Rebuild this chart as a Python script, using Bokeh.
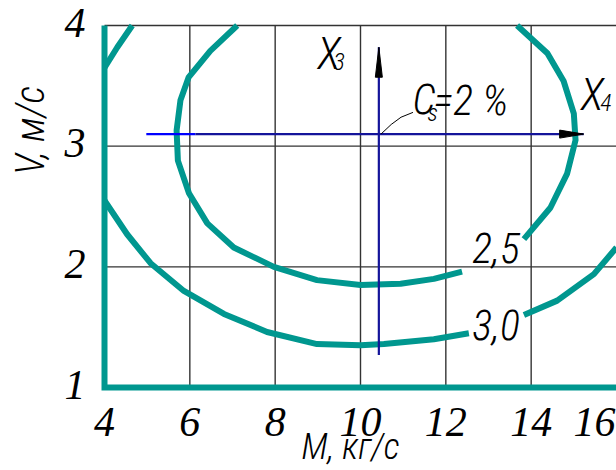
from bokeh.plotting import figure
from bokeh.models import Label, Range1d
from bokeh.embed import file_html
from bokeh.resources import INLINE

# Axis ticks
x_ticks = [4, 6, 8, 10, 12, 14, 16]
y_ticks = [1, 2, 3, 4]
x_grid = [6, 8, 10, 12, 14]
y_grid = [2, 3, 4]

# Contour C = 2.5 (left/bottom branch and right branch)
c25_a_x = [7.11, 6.48, 5.97, 5.78, 5.69, 5.72, 5.98, 6.41, 7.03, 7.97, 8.98, 10.0, 10.94, 11.72, 12.38]
c25_a_y = [4.00, 3.79, 3.57, 3.38, 3.13, 2.88, 2.61, 2.36, 2.16, 2.00, 1.89, 1.85, 1.86, 1.90, 1.96]
c25_b_x = [13.83, 14.45, 14.84, 15.04, 15.00, 14.76, 14.38, 13.67]
c25_b_y = [2.23, 2.49, 2.77, 3.05, 3.27, 3.54, 3.77, 4.00]

# Contour C = 3.0 (three visible pieces)
c30_a_x = [4.0, 4.53, 5.08, 5.86, 6.80, 7.81, 8.98, 10.0, 10.55, 11.72, 12.54]
c30_a_y = [2.55, 2.27, 2.03, 1.80, 1.61, 1.46, 1.36, 1.35, 1.36, 1.40, 1.45]
c30_b_x = [13.83, 14.61, 15.47, 16.0]
c30_b_y = [1.60, 1.72, 1.94, 2.16]
c30_c_x = [4.0, 4.30, 4.65]
c30_c_y = [3.65, 3.82, 4.00]

# Optimum point and search directions X3 (vertical) and X4 (horizontal)
opt_x, opt_y = 10.43, 3.10
x4_start, x4_end = 4.98, 15.23
x3_start, x3_end = 1.27, 3.82

# Leader line to the "Cs = 2 %" note
lead_x = [10.48, 10.72, 10.95, 11.23]
lead_y = [3.10, 3.18, 3.24, 3.28]

TEAL = "#00978f"
NAVY = "#14149a"
FONT = "Noto Sans ExtraCondensed Light, Noto Sans Condensed Light, Roboto Condensed Light, Roboto Condensed"

W, H = 616, 470
# the drawing area fills the whole canvas; tick labels are drawn as text
p = figure(width=W, height=H,
           x_range=Range1d(1.5625, 16.0), y_range=Range1d(0.3122, 4.2072),
           output_backend="svg", toolbar_location=None,
           x_axis_location=None, y_axis_location=None,
           min_border=0, min_border_left=0, min_border_right=0,
           min_border_top=0, min_border_bottom=0)
p.xgrid.visible = False
p.ygrid.visible = False
p.outline_line_color = None
p.background_fill_color = "white"
p.border_fill_color = "white"

# pixel scale of the drawing area
sx = W / (16.0 - 1.5625)
sy = H / (4.2072 - 0.3122)

# Grid drawn as segments inside the chart box
p.segment(x0=x_grid, y0=[1] * len(x_grid), x1=x_grid, y1=[4] * len(x_grid),
          line_color="#333333", line_width=1.4)
p.segment(x0=[4] * len(y_grid), y0=y_grid, x1=[16] * len(y_grid), y1=y_grid,
          line_color="#333333", line_width=1.4)

# Contours
for xs, ys in ((c25_a_x, c25_a_y), (c25_b_x, c25_b_y),
               (c30_a_x, c30_a_y), (c30_b_x, c30_b_y), (c30_c_x, c30_c_y)):
    p.line(xs, ys, line_color=TEAL, line_width=6, line_join="round")

# Thick left and bottom borders
p.line([x_ticks[0], x_ticks[0], x_ticks[-1]], [y_ticks[-1], y_ticks[0], y_ticks[0]],
       line_color=TEAL, line_width=6, line_join="miter")

# Search direction lines
split_x = 6.13
p.line([x4_start, split_x], [opt_y, opt_y], line_color="#0000ff", line_width=2.2)
p.line([split_x, x4_end], [opt_y, opt_y], line_color=NAVY, line_width=2.2)
p.line([opt_x, opt_x], [x3_start, x3_end], line_color=NAVY, line_width=2.2)

# Arrowheads (length/width given in pixels)
hl, hw = 24 / sx, 4 / sy
p.patch([x4_end, x4_end - hl, x4_end - hl], [opt_y, opt_y + hw, opt_y - hw], color="black")
vl, vw = 30 / sy, 3.5 / sx
p.patch([opt_x, opt_x - vw, opt_x + vw], [x3_end, x3_end - vl, x3_end - vl], color="black")

p.line(lead_x, lead_y, line_color="black", line_width=1)

# Tick labels; the last x label is right-aligned at the canvas edge
x_lab_y = y_ticks[0] - 34 / sy
p.text(x=x_ticks[:-1], y=[x_lab_y] * (len(x_ticks) - 1), text=[str(t) for t in x_ticks[:-1]],
       text_font=FONT, text_font_size="42px", text_font_style="italic",
       text_color="black", text_align="center", text_baseline="middle")
p.text(x=[x_ticks[-1] - 1 / sx], y=[x_lab_y], text=[str(x_ticks[-1])],
       text_font=FONT, text_font_size="42px", text_font_style="italic",
       text_color="black", text_align="right", text_baseline="middle")
y_lab_x = x_ticks[0] - 19 / sx
p.text(x=[y_lab_x] * len(y_ticks), y=[t + 3 / sy for t in y_ticks],
       text=[str(t) for t in y_ticks],
       text_font=FONT, text_font_size="42px", text_font_style="italic",
       text_color="black", text_align="right", text_baseline="middle")


def note(x, y, text, size, align="left", angle=0):
    p.add_layout(Label(x=x, y=y, text=text, text_font=FONT, text_font_size=size,
                       text_font_style="italic", text_color="black",
                       text_align=align, text_baseline="middle", angle=angle))


note(8.99, 3.764, "X", "44px")
note(9.37, 3.698, "3", "24px")
note(15.16, 3.428, "X", "44px")
note(15.62, 3.362, "4", "24px")
note(11.22, 3.387, "C", "42px")
note(11.57, 3.279, "s", "24px")
note(11.71, 3.378, "=2 %", "42px")
note(12.62, 2.152, "2,5", "42px")
note(12.62, 1.522, "3,0", "42px")

# Axis titles
note(2.266, 3.13, "V, м/с", "40px", align="center", angle=1.5708)
note(9.766, 0.51, "М, кг/с", "36px", align="center")

open("out.html", "w").write(file_html(p, INLINE))
